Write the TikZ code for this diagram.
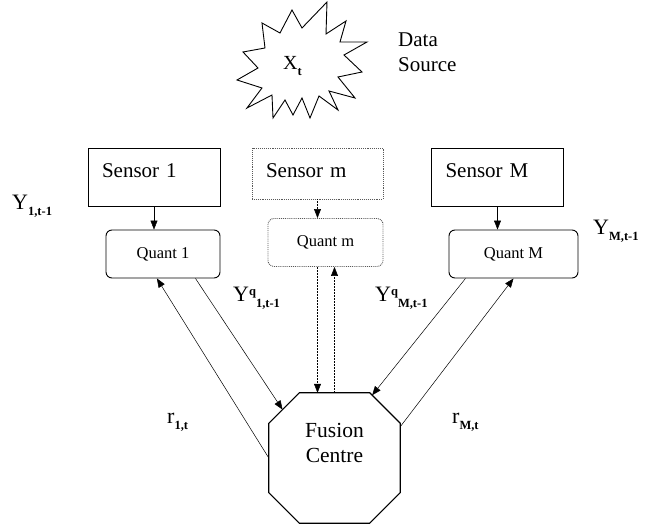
\documentclass[tikz,border=0pt]{standalone}
\usepackage{fontspec}
\setmainfont{Liberation Serif}
\usetikzlibrary{arrows.meta}

\newcommand{\lsub}[1]{\raisebox{-6pt}{\fontsize{12.5}{12.5}\selectfont\bfseries #1}}
\newcommand{\lsup}[1]{\raisebox{6pt}{\fontsize{12.5}{12.5}\selectfont\bfseries #1}}

\begin{document}
\begin{tikzpicture}[x=1pt,y=-1pt]
\tikzstyle{every node}+=[inner sep=0pt]
\tikzstyle{sensor}=[draw,line width=0.9pt,minimum height=58pt,inner xsep=14pt,text width=104pt,align=left,text depth=12pt,font=\fontsize{21}{21}\selectfont]
\tikzstyle{quant}=[draw,line width=0.9pt,rounded corners=6pt,minimum height=48pt,font=\fontsize{16.5}{16.5}\selectfont]
\tikzstyle{ghost}=[draw=black!65,densely dotted]
\tikzstyle{flow}=[line width=0.5pt,-{Triangle[length=9pt,width=7pt]}]
\tikzstyle{lab}=[anchor=base west,font=\fontsize{22}{22}\selectfont]

\useasboundingbox (0,0) rectangle (649,529);

% data source
\draw [line width=0.9pt] (327,2) -- (326,34) -- (346,21) -- (340,42) -- (367,42) -- (344,55)
  -- (362,72) -- (338,77) -- (355,98) -- (329,91) -- (338,110) -- (319,96) -- (310,118)
  -- (302,98) -- (293,115) -- (285,100) -- (273,118) -- (272,95) -- (247,108) -- (262,88)
  -- (237,80) -- (258,68) -- (243,52) -- (265,48) -- (262,23) -- (280,33) -- (292,10)
  -- (302,28) -- cycle;
\node [anchor=base west,font=\fontsize{20}{20}\selectfont] (xt) at (283,70) {X\lsub{t}};
\node [anchor=base west,align=left,font=\fontsize{21}{25}\selectfont] (src) at (398,72) {Data\\Source};

% sensors
\node [sensor] (s1) at (154,177) {Sensor 1};
\node [sensor,ghost,minimum height=51pt,text width=103pt,text depth=6pt] (sm) at (317.5,173.5) {Sensor m};
\node [sensor] (sM) at (497.5,177) {Sensor M};

% quantisers
\node [quant,minimum width=114pt] (q1) at (163,254) {Quant 1};
\node [quant,ghost,minimum width=115pt] (qm) at (325.5,242.5) {Quant m};
\node [quant,minimum width=129pt] (qM) at (513.5,254) {Quant M};

% fusion centre (octagon drawn round the node)
\node [minimum width=131pt,minimum height=130pt,align=center,text depth=30pt,
  font=\fontsize{21.5}{25}\selectfont] (fc) at (334.5,458) {Fusion\\Centre};
\draw [line width=1.2pt] ([xshift=30.5pt]fc.north west) -- ([xshift=-30.5pt]fc.north east)
  -- ([yshift=-30.5pt]fc.north east) -- ([yshift=30.5pt]fc.south east)
  -- ([xshift=-30.5pt]fc.south east) -- ([xshift=30.5pt]fc.south west)
  -- ([yshift=30.5pt]fc.south west) -- ([yshift=-30.5pt]fc.north west) -- cycle;
\path ([yshift=-30.5pt]fc.north west) -- ([xshift=30.5pt]fc.north west) coordinate [pos=0.45] (fcnw);
\path ([xshift=-30.5pt]fc.north east) -- ([yshift=-30.5pt]fc.north east) coordinate [pos=0.08] (fcne);
\coordinate (fcer) at ([yshift=-34pt]fc.north east);

\draw [flow] (s1.south) -- (s1.south |- q1.north);
\draw [flow,densely dotted] (sm.south) -- (sm.south |- qm.north);
\draw [flow] (sM.south) -- (sM.south |- qM.north);
\draw [flow,densely dotted] (sm.south |- qm.south) -- (sm.south |- fc.north);
\draw [flow,densely dotted] (fc.north) -- (fc.north |- qm.south);
\draw [flow] (q1.-37) -- (fcnw);
\draw [flow] (fc.west) -- (q1.-104);
\draw [flow] (qM.-153) -- (fcne);
\draw [flow] (fcer) -- (qM.south);

% signal labels
\node [lab] (y1) at (12,210) {Y\lsub{1,t-1}};
\node [lab] (yM) at (593,235) {Y\lsub{M,t-1}};
\node [lab] (yq1) at (233,302) {Y\lsup{q}\lsub{1,t-1}};
\node [lab] (yqM) at (375,302) {Y\lsup{q}\lsub{M,t-1}};
\node [lab] (r1) at (167,424) {r\lsub{1,t}};
\node [lab] (rM) at (452,424) {r\lsub{M,t}};
\end{tikzpicture}
\end{document}
